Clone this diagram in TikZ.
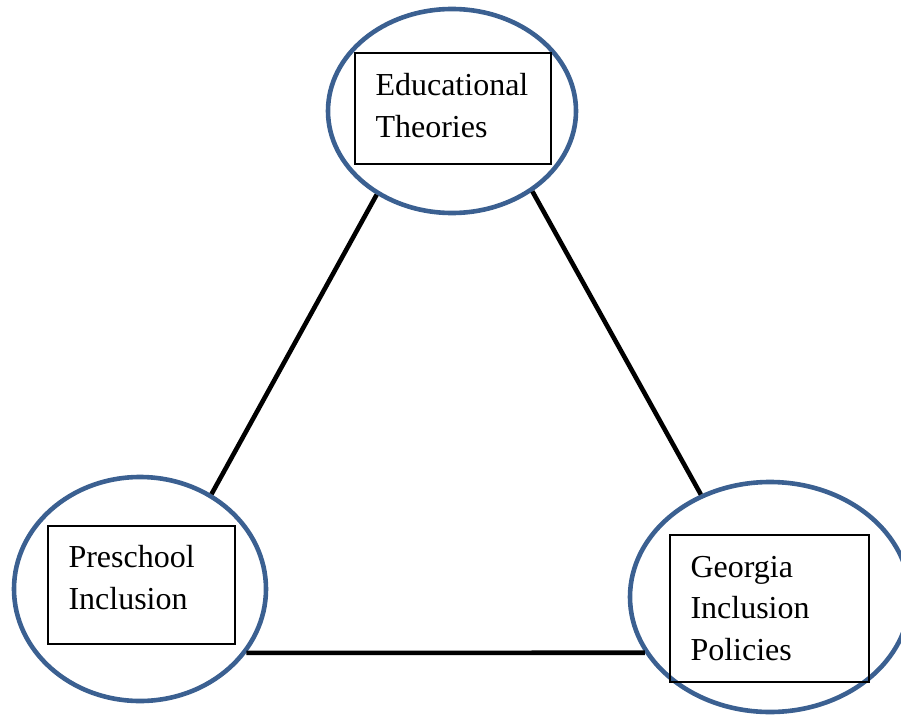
\documentclass[tikz,border=0pt]{standalone}
\usepackage{fontspec}
\setmainfont{Liberation Serif}
\usetikzlibrary{shapes.geometric}
\definecolor{rim}{RGB}{59,96,145}

\begin{document}
\begin{tikzpicture}[
  x=1pt, y=-1pt,
  line/.style = {line width=4.6pt, black},
  hub/.style = {ellipse, draw=rim, line width=4.6pt, inner sep=0pt},
  box/.style = {rectangle, draw, line width=1.4pt, inner sep=0pt},
  txt/.style = {anchor=north west, inner sep=0pt, align=left,
    font=\fontsize{32}{41.8}\selectfont},
]
  \useasboundingbox (0,0) rectangle (901,717);

  % ellipses
  \node[hub, minimum width=248pt, minimum height=204pt] (e0) at (452,111) {};
  \node[hub, minimum width=252pt, minimum height=224pt] (e1) at (140,589) {};
  \node[hub, minimum width=280pt, minimum height=230pt] (e2) at (770,597) {};

  \draw[line] (e0.228.5) -- (e1.53);
  \draw[line] (e0.315) -- (e2.124);
  \draw[line] (e1.329) -- (e2.204.2);

  % boxes
  \node[box, minimum width=196pt, minimum height=111pt] (b0) at (453,108.5) {};
  \node[box, minimum width=187pt, minimum height=118pt] (b1) at (141.5,585) {};
  \node[box, minimum width=199pt, minimum height=147pt] (b2) at (769.5,608.5) {};

  \node[txt] (t0) at ([shift={(21,21)}]b0.north west) {Educational\\Theories};
  \node[txt] (t1) at ([shift={(21,20)}]b1.north west) {Preschool\\Inclusion};
  \node[txt] (t2) at ([shift={(21,21.5)}]b2.north west) {Georgia\\Inclusion\\Policies};

\end{tikzpicture}
\end{document}
